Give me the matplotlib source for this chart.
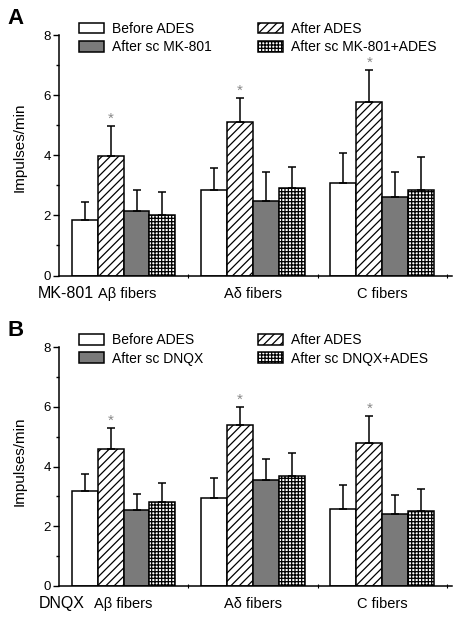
import numpy as np
import matplotlib
matplotlib.use("Agg")
import matplotlib.pyplot as plt
from matplotlib.patches import Patch

plt.rcParams['font.family'] = ['Liberation Sans', 'DejaVu Sans']
plt.rcParams['hatch.linewidth'] = 0.9

# データ
groups = ["A\u03b2 fibers", "A\u03b4 fibers", "C fibers"]

# パネルA (MK-801)
a_before = [1.84, 2.83, 3.09]
a_before_err = [0.60, 0.76, 0.97]
a_after = [3.98, 5.10, 5.76]
a_after_err = [0.99, 0.82, 1.07]
a_drug = [2.16, 2.49, 2.61]
a_drug_err = [0.67, 0.95, 0.83]
a_drug_ades = [2.01, 2.92, 2.83]
a_drug_ades_err = [0.78, 0.70, 1.10]

# パネルB (DNQX)
b_before = [3.18, 2.96, 2.58]
b_before_err = [0.56, 0.64, 0.81]
b_after = [4.57, 5.38, 4.77]
b_after_err = [0.71, 0.61, 0.93]
b_drug = [2.55, 3.54, 2.42]
b_drug_err = [0.53, 0.71, 0.62]
b_drug_ades = [2.82, 3.68, 2.51]
b_drug_ades_err = [0.62, 0.77, 0.73]

fig = plt.figure(figsize=(4.56, 6.2), dpi=100)

styles = [
    dict(facecolor="white", hatch=None),
    dict(facecolor="white", hatch="////"),
    dict(facecolor="#7a7a7a", hatch=None),
    dict(facecolor="white", hatch="+++++"),
]


def panel(rect, letter, drug, series, errs, legend_y, ylab_y, ab_shift, drug_x):
    ax = fig.add_axes(rect)
    x = np.arange(len(groups))
    w = 0.2
    for i, (vals, err) in enumerate(zip(series, errs)):
        pos = x + (i - 1.5) * w
        ax.bar(pos, vals, width=w, edgecolor="black", linewidth=1.1, **styles[i])
        ax.errorbar(pos, vals, yerr=[np.zeros(len(err)), err], fmt="none",
                    ecolor="black", elinewidth=1.1, capsize=3, capthick=1.1)
        if i == 1:
            for p, v, e in zip(pos, vals, err):
                ax.text(p, v + e + 0.0, "*", ha="center", va="bottom",
                        fontsize=11, color="#888888")
    ax.set_xlim(-0.5, 2.54)
    ax.set_ylim(0, 8)
    ax.spines["top"].set_visible(False)
    ax.spines["right"].set_visible(False)
    ax.spines["left"].set_linewidth(1.1)
    ax.spines["bottom"].set_linewidth(1.1)
    ax.set_yticks([0, 2, 4, 6, 8])
    ax.set_yticks([1, 3, 5, 7], minor=True)
    ax.tick_params(axis="y", which="major", length=4, width=1, labelsize=9.5, pad=2)
    ax.tick_params(axis="y", which="minor", length=2, width=1)
    ax.set_xticks([0.5, 1.5, 2.5])
    ax.set_xticklabels([])
    ax.tick_params(axis="x", which="major", length=3, width=0.8, direction="inout")

    # 群ラベル
    trans = ax.get_xaxis_transform()
    for k, g in enumerate(groups):
        xx = k + (ab_shift if k == 0 else 0)
        ax.text(xx, -0.075, g, transform=trans, ha="center", va="center", fontsize=10.5)
    ax.text(drug_x, -0.075, drug, transform=trans, ha="center", va="center", fontsize=11.5)

    fig.text(20 / 456, ylab_y, "Impulses/min", rotation=90, ha="center",
             va="center", fontsize=11)
    fig.text(16 / 456, rect[1] + rect[3] + 16 / 620, letter, ha="center",
             va="center", fontsize=16, fontweight="bold")

    # 凡例 (2列を別々に配置)
    labels = ["Before ADES", "After ADES", "After sc " + drug, "After sc " + drug + "+ADES"]
    handles = [Patch(edgecolor="black", linewidth=1.1, **s) for s in styles]
    kw = dict(frameon=False, fontsize=10, handlelength=1.8, handleheight=0.8,
              handletextpad=0.6, labelspacing=0.3, borderpad=0, borderaxespad=0,
              loc="center left")
    fig.legend([handles[0], handles[2]], [labels[0], labels[2]],
               bbox_to_anchor=(79 / 456, legend_y), **kw)
    fig.legend([handles[1], handles[3]], [labels[1], labels[3]],
               bbox_to_anchor=(258 / 456, legend_y), **kw)
    return ax


panel([59 / 456, 1 - 275.5 / 620, 393 / 456, 240.5 / 620], "A", "MK-801",
      [a_before, a_after, a_drug, a_drug_ades],
      [a_before_err, a_after_err, a_drug_err, a_drug_ades_err],
      1 - 38 / 620, 1 - 147 / 620, 0.03, -0.45)
panel([59 / 456, 1 - 586 / 620, 393 / 456, 239 / 620], "B", "DNQX",
      [b_before, b_after, b_drug, b_drug_ades],
      [b_before_err, b_after_err, b_drug_err, b_drug_ades_err],
      1 - 349.5 / 620, 1 - 461.5 / 620, 0.0, -0.48)

fig.savefig("out.png", dpi=100)
